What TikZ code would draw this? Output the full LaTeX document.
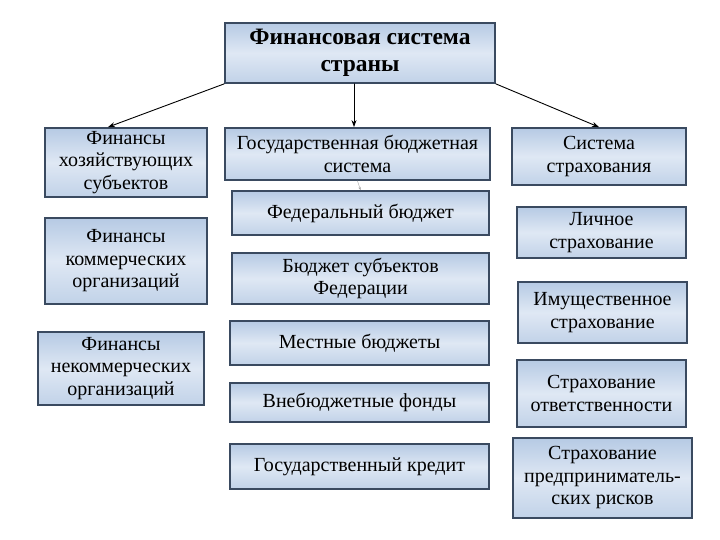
\documentclass[tikz,border=0pt]{standalone}
\usepackage{fontspec}
\setmainfont{Liberation Serif}
\usetikzlibrary{arrows.meta}
\definecolor{boxline}{HTML}{3A4A60}
\definecolor{boxtop}{HTML}{B6CAE4}
\definecolor{boxmid}{HTML}{DFE8F4}

\begin{document}
\begin{tikzpicture}[x=1pt,y=-1pt,>={Stealth[length=7pt,width=5pt]},line cap=round,
  box/.style={draw=boxline,line width=1.8pt,top color=boxtop,bottom color=boxtop!85!white,
    middle color=boxmid,align=center,inner sep=0pt,font=\fontsize{20}{22.5}\selectfont},
  link/.style={->,line width=0.9pt}]
\useasboundingbox[fill=white] (0,0) rectangle (720,540);
% top
\node[box,minimum width=270,minimum height=60,font=\bfseries\fontsize{23.5}{26.5}\selectfont] (title) at (360,53) {Финансовая система\\страны};
% left column
\node[box,minimum width=162,minimum height=69] (fhs) at (126,162.5) {Финансы\\хозяйствующих\\субъектов};
\node[box,minimum width=162,minimum height=86] (fko) at (126,261) {Финансы\\коммерческих\\организаций};
\node[box,minimum width=166,minimum height=73] (fnk) at (121,368.5) {Финансы\\некоммерческих\\организаций};
% middle column
\node[box,minimum width=265,minimum height=52] (gos) at (357.5,154) {Государственная бюджетная\\система};
\node[box,minimum width=257,minimum height=44] (fed) at (360.5,213) {Федеральный бюджет};
\node[box,minimum width=257,minimum height=51] (sub) at (360.5,278.5) {Бюджет субъектов\\Федерации};
\node[box,minimum width=259,minimum height=44] (mest) at (359.5,343) {Местные бюджеты};
\node[box,minimum width=259,minimum height=39] (vneb) at (359.5,402.5) {Внебюджетные фонды};
\node[box,minimum width=259,minimum height=45] (kred) at (359.5,466.5) {Государственный кредит};
% right column
\node[box,minimum width=174,minimum height=57] (strah) at (599,156.5) {Система\\страхования};
\node[box,minimum width=169,minimum height=51] (lich) at (601.5,232.5) {Личное\\страхование};
\node[box,minimum width=169,minimum height=61] (imush) at (602.5,312.5) {Имущественное\\страхование};
\node[box,minimum width=169,minimum height=67] (otv) at (601.5,393.5) {Страхование\\ответственности};
\node[box,minimum width=179,minimum height=80] (pred) at (602.5,478) {Страхование\\предприниматель-\\ских рисков};
% arrows
\draw[link] (title.south west) -- ([xshift=-18pt]fhs.north);
\draw[link] ([xshift=-6pt]title.south) -- ([xshift=-6pt]title.south |- gos.north);
\draw[link] (title.south east) -- (strah.north);
\draw[->,gray!70,line width=0.4pt,>={Stealth[length=3pt,width=2.5pt]}] (gos.south) -- (fed.north);
\end{tikzpicture}
\end{document}
